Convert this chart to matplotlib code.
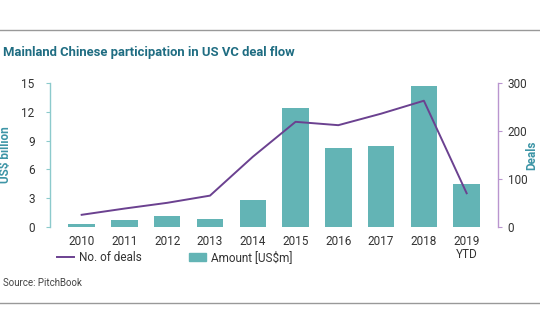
import matplotlib
matplotlib.use("Agg")
import matplotlib.pyplot as plt
from matplotlib.lines import Line2D
from matplotlib.patches import Patch
import numpy as np

years = ["2010", "2011", "2012", "2013", "2014", "2015", "2016", "2017", "2018", "2019\nYTD"]
amount_bn = [0.3, 0.7, 1.1, 0.8, 2.8, 12.4, 8.25, 8.45, 14.65, 4.5]
deals = [25, 38, 50, 65, 146, 219, 212, 236, 263, 70]

left_ticks = [0, 3, 6, 9, 12, 15]
right_ticks = [0, 100, 200, 300]

bar_col = "#63b4b5"
line_col = "#6b4190"
teal_axis = "#8ccacc"
purple_axis = "#b995cf"
title_col = "#1f6d82"
label_col = "#3d95a6"
text_col = "#333333"

plt.rcParams["font.family"] = ["Roboto", "DejaVu Sans"]

fig = plt.figure(figsize=(5.4, 3.34), dpi=100)
ax = fig.add_axes([0.0926, 0.321, 0.8294, 0.4305])
ax2 = ax.twinx()

x = np.arange(len(years))
ax.bar(x, amount_bn, width=0.62, color=bar_col, zorder=2)
ax2.plot(x, deals, color=line_col, lw=1.4, zorder=3)

ax.set_xlim(-0.74, 9.73)
ax.set_ylim(0, 15)
ax2.set_ylim(0, 300)
ax.set_yticks(left_ticks)
ax2.set_yticks(right_ticks)
ax.set_xticks(x)
ax.set_xticklabels(years, fontsize=8.5, color=text_col, linespacing=1.0)

for s in ["top", "right", "bottom"]:
    ax.spines[s].set_visible(False)
for s in ["top", "left", "bottom"]:
    ax2.spines[s].set_visible(False)
ax.spines["left"].set_color(teal_axis)
ax2.spines["right"].set_color(purple_axis)
ax.spines["left"].set_linewidth(1.0)
ax2.spines["right"].set_linewidth(1.0)

ax.tick_params(axis="y", colors=teal_axis, labelcolor=text_col, labelsize=8.5, length=3, pad=8)
ax2.tick_params(axis="y", colors=purple_axis, labelcolor=text_col, labelsize=8.5, length=3, pad=4)
ax.tick_params(axis="x", length=0, pad=6)

ax.set_ylabel("US$ billion", color=label_col, fontsize=8.5, fontweight="bold")
ax2.set_ylabel("Deals", color=label_col, fontsize=8.5, fontweight="bold", rotation=90)
ax.yaxis.set_label_coords(-0.085, 0.5)
ax2.yaxis.set_label_coords(1.06, 0.5)

fig.text(0.006, 0.842, "Mainland Chinese participation in US VC deal flow",
         fontsize=9.4, fontweight="bold", color=title_col, va="center")

handles = [Line2D([0], [0], color=line_col, lw=1.4),
           Patch(color=bar_col)]
fig.legend(handles, ["No. of deals", "Amount [US$m]"], loc="center left",
           bbox_to_anchor=(0.085, 0.228), ncol=2, frameon=False, fontsize=8.5,
           handlelength=1.45, handleheight=0.6, columnspacing=4.0, handletextpad=0.45,
           labelcolor=text_col)

fig.text(0.006, 0.152, "Source: PitchBook", fontsize=7, color="#444444", va="center")

# thin grey rules framing the chart
fig.add_artist(Line2D([0, 1], [1 - 30 / 334, 1 - 30 / 334], color="#999999", lw=1.0))
fig.add_artist(Line2D([0, 1], [1 - 303 / 334, 1 - 303 / 334], color="#999999", lw=1.0))

fig.savefig("out.png", dpi=100)
